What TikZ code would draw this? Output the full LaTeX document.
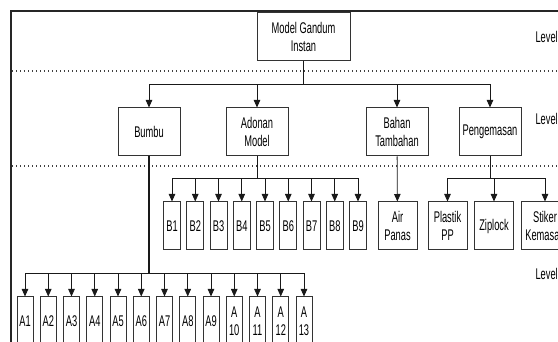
\documentclass[tikz,border=0pt]{standalone}
\usepackage{fontspec}
\setmainfont[FakeStretch=0.6]{Liberation Sans}
\usetikzlibrary{arrows.meta}
\begin{document}
\begin{tikzpicture}[x=1pt,y=-1pt,font=\fontsize{15.5}{18.5}\selectfont,
  box/.style={draw=black!80,line width=1pt,minimum width=62,minimum height=48,
    inner sep=1pt,align=center},
  narrow/.style={box,minimum width=17},
  arr/.style={draw=black!90,line width=0.8pt,-{Triangle[width=6.5pt,length=7.5pt]}},
  levelline/.style={black!75,line width=1.3pt,dash pattern=on 1.3pt off 2.7pt}]
  \useasboundingbox (0,0) rectangle (558,342);
  \clip (0,0) rectangle (558,342);
  \fill[white] (0,0) rectangle (558,342);
  \draw[black!85,line width=1.3pt] (11,342) -- (11,11) -- (560,11);
  \draw[levelline] (12,71) -- (558,71);
  \draw[levelline] (12,166) -- (558,166);
  \node[anchor=west] (lv0) at (532,37) {Level};
  \node[anchor=west] (lv1) at (532,119) {Level};
  \node[anchor=west] (lv2) at (532,274) {Level};
  \node[box,minimum width=93] (top) at (303.5,37) {Model Gandum\\Instan};
  \node[box] (bumbu) at (149,132) {Bumbu};
  \node[box] (adonan) at (257,132) {Adonan\\Model};
  \node[box] (bahan) at (397,132) {Bahan\\Tambahan};
  \node[box] (pengemasan) at (490,132) {Pengemasan};
  \foreach \child in {bumbu,adonan,bahan,pengemasan}
    \draw[arr] (top.south) -- ++(0,23) -| (\child);
  \foreach \i in {1,...,9}{
    \node[narrow] (b\i) at ({172+(\i-1)*23.25},226) {B\i};
    \draw[arr] (adonan.south) -- ++(0,22) -| (b\i);
  }
  \node[box,minimum width=39] (air) at (397.5,226) {Air\\Panas};
  \draw[arr] (bahan) -- (air);
  \node[box,minimum width=39] (plastik) at (447.5,226) {Plastik\\PP};
  \node[box,minimum width=39] (ziplock) at (494,226) {Ziplock};
  \node[box,minimum width=48] (stiker) at (545,226) {Stiker\\Kemasan};
  \foreach \child in {plastik,ziplock,stiker}
    \draw[arr] (pengemasan.south) -- ++(0,22) -| (\child);
  \foreach \i in {1,...,9}
    \node[narrow,minimum width=16] (a\i) at ({25+(\i-1)*23.25},321) {A\i};
  \foreach \i in {10,...,13}
    \node[narrow,minimum width=16] (a\i) at ({25+(\i-1)*23.25},321) {A\\\i};
  \draw[black!90,line width=1.6pt] (bumbu.south) -- ++(0,117);
  \foreach \i in {1,...,13}
    \draw[arr] (bumbu.south) -- ++(0,117) -| (a\i);
\end{tikzpicture}
\end{document}
